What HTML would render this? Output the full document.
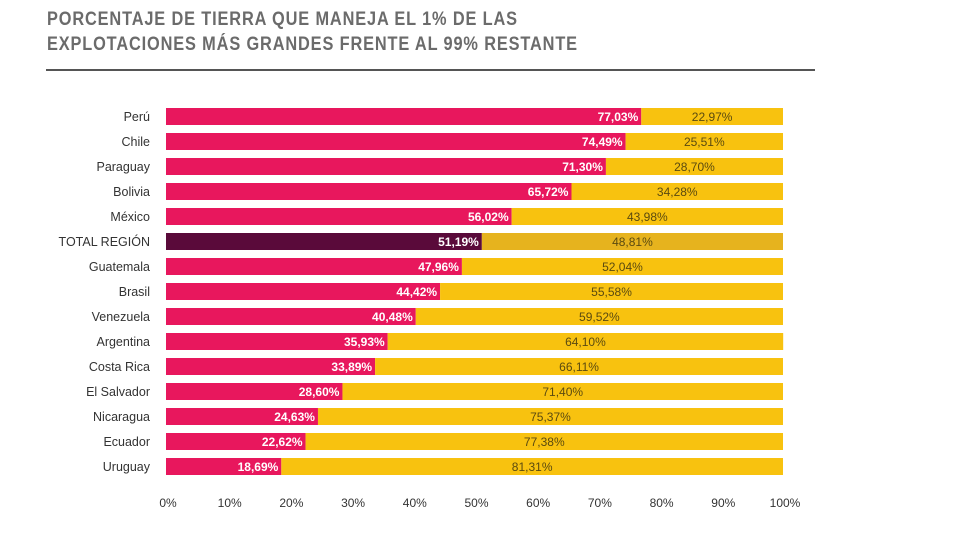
<!DOCTYPE html>
<html><head><meta charset="utf-8"><style>
body{margin:0;width:960px;height:540px;background:#fff;font-family:"Liberation Sans",sans-serif;overflow:hidden}
.t{position:absolute;left:47px;font-size:19px;font-weight:bold;color:#6b6b6b;letter-spacing:1px;transform:scaleX(0.86);transform-origin:left top}
</style></head><body>
<div class="t" style="top:9px">PORCENTAJE DE TIERRA QUE MANEJA EL 1% DE LAS</div>
<div class="t" style="top:34px">EXPLOTACIONES MÁS GRANDES FRENTE AL 99% RESTANTE</div>
<div style="position:absolute;left:46px;top:69px;width:769px;height:2px;background:#555"></div>
<svg id="c" width="960" height="540" style="position:absolute;left:0;top:0"></svg>
<script>
const countries=["Perú","Chile","Paraguay","Bolivia","México","TOTAL REGIÓN","Guatemala","Brasil","Venezuela","Argentina","Costa Rica","El Salvador","Nicaragua","Ecuador","Uruguay"];
const top1=[77.03,74.49,71.30,65.72,56.02,51.19,47.96,44.42,40.48,35.93,33.89,28.60,24.63,22.62,18.69];
const rest=[22.97,25.51,28.70,34.28,43.98,48.81,52.04,55.58,59.52,64.10,66.11,71.40,75.37,77.38,81.31];
const ticks=[0,10,20,30,40,50,60,70,80,90,100];
const svg=document.getElementById('c');const NS='http://www.w3.org/2000/svg';
const x0=166,x1=783,x=v=>x0+v/100*(x1-x0),y=i=>108+i*25,bh=17;
const fmt=v=>v.toFixed(2).replace('.',',')+'%';
function mk(t,a){const e=document.createElementNS(NS,t);for(const k in a)e.setAttribute(k,a[k]);svg.appendChild(e);return e;}
countries.forEach((c,i)=>{
 const tot=c==="TOTAL REGIÓN";
 let l=mk('text',{x:150,y:y(i)+13,'text-anchor':'end','font-size':12.5,fill:'#333','font-family':'Liberation Sans, sans-serif'});l.textContent=c;
 
 
 let a=mk('rect',{x:x(0),y:y(i),width:x(top1[i])-x(0),height:bh,fill:tot?'#5a0a3a':'#e8175d'});
 
 
 let b=mk('rect',{x:x(top1[i]),y:y(i),width:x(top1[i]+rest[i])-x(top1[i]),height:bh,fill:tot?'#e6b31e':'#f8c20f'});
 
 
 let la=mk('text',{x:x(top1[i])-3,y:y(i)+13,'text-anchor':'end','font-size':12,'font-weight':'bold',fill:'#fff'});la.textContent=fmt(top1[i]);
 
 
 let lb=mk('text',{x:(x(top1[i])+x(top1[i]+rest[i]))/2,y:y(i)+13,'text-anchor':'middle','font-size':12,fill:'#5a4a10'});lb.textContent=fmt(rest[i]);
 
 
});
ticks.forEach(t=>{let e=mk('text',{x:x(t)+2,y:507,'text-anchor':'middle','font-size':12,fill:'#333'});e.textContent=t+'%';
 
 });
</script>
</body></html>
